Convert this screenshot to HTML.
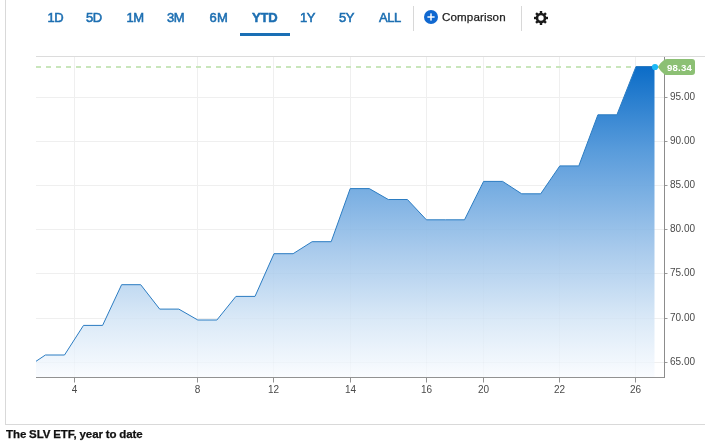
<!DOCTYPE html>
<html><head><meta charset="utf-8"><title>SLV</title>
<style>
html,body{margin:0;padding:0;background:#fff;}
body{width:705px;height:442px;position:relative;overflow:hidden;font-family:"Liberation Sans",sans-serif;}
.t{position:absolute;top:10px;height:16px;line-height:16px;font-size:13px;color:#1d6fb2;white-space:nowrap;letter-spacing:-0.4px;-webkit-text-stroke:0.55px #1d6fb2}
.ax{font-family:"Liberation Sans",sans-serif;font-size:10px;fill:#4a4a4a}
.lb{font-family:"Liberation Sans",sans-serif;font-size:9.6px;font-weight:bold;fill:#fff;letter-spacing:0.2px}
.sep{position:absolute;top:6px;width:1px;height:25px;background:#d8d8d8}
</style></head><body><div id="w" style="position:absolute;left:0;top:0;width:705px;height:442px;will-change:transform">
<div style="position:absolute;left:5px;top:0;width:1px;height:424px;background:#d9d9d9"></div>
<div style="position:absolute;left:5px;top:424px;width:700px;height:1px;background:#d9d9d9"></div>
<svg width="705" height="442" viewBox="0 0 705 442" style="position:absolute;left:0;top:0"><defs><linearGradient id="g" gradientUnits="userSpaceOnUse" x1="0" y1="57" x2="0" y2="377"><stop offset="0" stop-color="#0868c6"/><stop offset="0.04" stop-color="#0e6ec8"/><stop offset="0.29" stop-color="#589bdb"/><stop offset="0.60" stop-color="#a8caec"/><stop offset="0.82" stop-color="#dae9f7"/><stop offset="1" stop-color="#fafcff"/></linearGradient><linearGradient id="og" gradientUnits="userSpaceOnUse" x1="0" y1="57" x2="0" y2="377"><stop offset="0" stop-color="#000" stop-opacity="0"/><stop offset="0.3" stop-color="#000" stop-opacity="0"/><stop offset="1" stop-color="#000" stop-opacity="0.018"/></linearGradient></defs><rect x="36" y="56" width="669" height="1" fill="#dcdcdc"/><rect x="74.0" y="57" width="1" height="320" fill="#efefef"/><rect x="197.0" y="57" width="1" height="320" fill="#efefef"/><rect x="273.0" y="57" width="1" height="320" fill="#efefef"/><rect x="350.0" y="57" width="1" height="320" fill="#efefef"/><rect x="426.0" y="57" width="1" height="320" fill="#efefef"/><rect x="483.0" y="57" width="1" height="320" fill="#efefef"/><rect x="559.0" y="57" width="1" height="320" fill="#efefef"/><rect x="635.0" y="57" width="1" height="320" fill="#efefef"/><rect x="36" y="97.0" width="628" height="1" fill="#efefef"/><rect x="36" y="141.0" width="628" height="1" fill="#efefef"/><rect x="36" y="185.0" width="628" height="1" fill="#efefef"/><rect x="36" y="229.0" width="628" height="1" fill="#efefef"/><rect x="36" y="273.0" width="628" height="1" fill="#efefef"/><rect x="36" y="318.0" width="628" height="1" fill="#efefef"/><rect x="36" y="362.0" width="628" height="1" fill="#efefef"/><rect x="36" y="66" width="5" height="2" fill="#c9e6bc"/><rect x="46" y="66" width="5" height="2" fill="#c9e6bc"/><rect x="56" y="66" width="5" height="2" fill="#c9e6bc"/><rect x="66" y="66" width="5" height="2" fill="#c9e6bc"/><rect x="76" y="66" width="5" height="2" fill="#c9e6bc"/><rect x="86" y="66" width="5" height="2" fill="#c9e6bc"/><rect x="96" y="66" width="5" height="2" fill="#c9e6bc"/><rect x="106" y="66" width="5" height="2" fill="#c9e6bc"/><rect x="116" y="66" width="5" height="2" fill="#c9e6bc"/><rect x="126" y="66" width="5" height="2" fill="#c9e6bc"/><rect x="136" y="66" width="5" height="2" fill="#c9e6bc"/><rect x="146" y="66" width="5" height="2" fill="#c9e6bc"/><rect x="156" y="66" width="5" height="2" fill="#c9e6bc"/><rect x="166" y="66" width="5" height="2" fill="#c9e6bc"/><rect x="176" y="66" width="5" height="2" fill="#c9e6bc"/><rect x="186" y="66" width="5" height="2" fill="#c9e6bc"/><rect x="196" y="66" width="5" height="2" fill="#c9e6bc"/><rect x="206" y="66" width="5" height="2" fill="#c9e6bc"/><rect x="216" y="66" width="5" height="2" fill="#c9e6bc"/><rect x="226" y="66" width="5" height="2" fill="#c9e6bc"/><rect x="236" y="66" width="5" height="2" fill="#c9e6bc"/><rect x="246" y="66" width="5" height="2" fill="#c9e6bc"/><rect x="256" y="66" width="5" height="2" fill="#c9e6bc"/><rect x="266" y="66" width="5" height="2" fill="#c9e6bc"/><rect x="276" y="66" width="5" height="2" fill="#c9e6bc"/><rect x="286" y="66" width="5" height="2" fill="#c9e6bc"/><rect x="296" y="66" width="5" height="2" fill="#c9e6bc"/><rect x="306" y="66" width="5" height="2" fill="#c9e6bc"/><rect x="316" y="66" width="5" height="2" fill="#c9e6bc"/><rect x="326" y="66" width="5" height="2" fill="#c9e6bc"/><rect x="336" y="66" width="5" height="2" fill="#c9e6bc"/><rect x="346" y="66" width="5" height="2" fill="#c9e6bc"/><rect x="356" y="66" width="5" height="2" fill="#c9e6bc"/><rect x="366" y="66" width="5" height="2" fill="#c9e6bc"/><rect x="376" y="66" width="5" height="2" fill="#c9e6bc"/><rect x="386" y="66" width="5" height="2" fill="#c9e6bc"/><rect x="396" y="66" width="5" height="2" fill="#c9e6bc"/><rect x="406" y="66" width="5" height="2" fill="#c9e6bc"/><rect x="416" y="66" width="5" height="2" fill="#c9e6bc"/><rect x="426" y="66" width="5" height="2" fill="#c9e6bc"/><rect x="436" y="66" width="5" height="2" fill="#c9e6bc"/><rect x="446" y="66" width="5" height="2" fill="#c9e6bc"/><rect x="456" y="66" width="5" height="2" fill="#c9e6bc"/><rect x="466" y="66" width="5" height="2" fill="#c9e6bc"/><rect x="476" y="66" width="5" height="2" fill="#c9e6bc"/><rect x="486" y="66" width="5" height="2" fill="#c9e6bc"/><rect x="496" y="66" width="5" height="2" fill="#c9e6bc"/><rect x="506" y="66" width="5" height="2" fill="#c9e6bc"/><rect x="516" y="66" width="5" height="2" fill="#c9e6bc"/><rect x="526" y="66" width="5" height="2" fill="#c9e6bc"/><rect x="536" y="66" width="5" height="2" fill="#c9e6bc"/><rect x="546" y="66" width="5" height="2" fill="#c9e6bc"/><rect x="556" y="66" width="5" height="2" fill="#c9e6bc"/><rect x="566" y="66" width="5" height="2" fill="#c9e6bc"/><rect x="576" y="66" width="5" height="2" fill="#c9e6bc"/><rect x="586" y="66" width="5" height="2" fill="#c9e6bc"/><rect x="596" y="66" width="5" height="2" fill="#c9e6bc"/><rect x="606" y="66" width="5" height="2" fill="#c9e6bc"/><rect x="616" y="66" width="5" height="2" fill="#c9e6bc"/><rect x="626" y="66" width="5" height="2" fill="#c9e6bc"/><rect x="636" y="66" width="5" height="2" fill="#c9e6bc"/><rect x="646" y="66" width="5" height="2" fill="#c9e6bc"/><path d="M36,361.3 L45.4,355 L64.5,355 L83.5,325.4 L102.6,325.4 L121.6,284.7 L140.7,284.7 L159.7,309.1 L178.8,309.1 L197.8,320 L216.9,320 L235.9,296.4 L255,296.4 L274,253.7 L293.1,253.7 L312.1,241.7 L331.2,241.7 L350.2,188.6 L369.3,188.6 L388.3,199.5 L407.4,199.5 L426.4,219.8 L445.5,219.8 L464.5,219.8 L483.6,181.4 L502.6,181.4 L521.7,193.8 L540.7,193.8 L559.8,165.9 L578.8,165.9 L597.9,114.8 L616.9,114.8 L636,66.5 L654.5,66.5 L654.5,377 L36,377 Z" fill="url(#g)"/><clipPath id="cp"><path d="M36,361.3 L45.4,355 L64.5,355 L83.5,325.4 L102.6,325.4 L121.6,284.7 L140.7,284.7 L159.7,309.1 L178.8,309.1 L197.8,320 L216.9,320 L235.9,296.4 L255,296.4 L274,253.7 L293.1,253.7 L312.1,241.7 L331.2,241.7 L350.2,188.6 L369.3,188.6 L388.3,199.5 L407.4,199.5 L426.4,219.8 L445.5,219.8 L464.5,219.8 L483.6,181.4 L502.6,181.4 L521.7,193.8 L540.7,193.8 L559.8,165.9 L578.8,165.9 L597.9,114.8 L616.9,114.8 L636,66.5 L654.5,66.5 L654.5,377 L36,377 Z"/></clipPath><g clip-path="url(#cp)"><rect x="74.0" y="57" width="1" height="320" fill="url(#og)"/><rect x="197.0" y="57" width="1" height="320" fill="url(#og)"/><rect x="273.0" y="57" width="1" height="320" fill="url(#og)"/><rect x="350.0" y="57" width="1" height="320" fill="url(#og)"/><rect x="426.0" y="57" width="1" height="320" fill="url(#og)"/><rect x="483.0" y="57" width="1" height="320" fill="url(#og)"/><rect x="559.0" y="57" width="1" height="320" fill="url(#og)"/><rect x="635.0" y="57" width="1" height="320" fill="url(#og)"/><rect x="36" y="97.0" width="619" height="1" fill="#000" fill-opacity="0.000"/><rect x="36" y="141.0" width="619" height="1" fill="#000" fill-opacity="0.000"/><rect x="36" y="185.0" width="619" height="1" fill="#000" fill-opacity="0.003"/><rect x="36" y="229.0" width="619" height="1" fill="#000" fill-opacity="0.006"/><rect x="36" y="273.0" width="619" height="1" fill="#000" fill-opacity="0.010"/><rect x="36" y="318.0" width="619" height="1" fill="#000" fill-opacity="0.013"/><rect x="36" y="362.0" width="619" height="1" fill="#000" fill-opacity="0.017"/></g><path d="M36,361.3 L45.4,355 L64.5,355 L83.5,325.4 L102.6,325.4 L121.6,284.7 L140.7,284.7 L159.7,309.1 L178.8,309.1 L197.8,320 L216.9,320 L235.9,296.4 L255,296.4 L274,253.7 L293.1,253.7 L312.1,241.7 L331.2,241.7 L350.2,188.6 L369.3,188.6 L388.3,199.5 L407.4,199.5 L426.4,219.8 L445.5,219.8 L464.5,219.8 L483.6,181.4 L502.6,181.4 L521.7,193.8 L540.7,193.8 L559.8,165.9 L578.8,165.9 L597.9,114.8 L616.9,114.8 L636,66.5 L654.5,66.5" fill="none" stroke="#2b7cc2" stroke-width="1" stroke-linejoin="round"/><rect x="36" y="377" width="629" height="1" fill="#929292"/><rect x="664" y="57" width="1" height="321" fill="#8c8c8c"/><rect x="74.0" y="378" width="1" height="4.5" fill="#929292"/><text x="74.5" y="393" text-anchor="middle" class="ax">4</text><rect x="197.0" y="378" width="1" height="4.5" fill="#929292"/><text x="197.5" y="393" text-anchor="middle" class="ax">8</text><rect x="273.0" y="378" width="1" height="4.5" fill="#929292"/><text x="273.5" y="393" text-anchor="middle" class="ax">12</text><rect x="350.0" y="378" width="1" height="4.5" fill="#929292"/><text x="350.5" y="393" text-anchor="middle" class="ax">14</text><rect x="426.0" y="378" width="1" height="4.5" fill="#929292"/><text x="426.5" y="393" text-anchor="middle" class="ax">16</text><rect x="483.0" y="378" width="1" height="4.5" fill="#929292"/><text x="483.5" y="393" text-anchor="middle" class="ax">20</text><rect x="559.0" y="378" width="1" height="4.5" fill="#929292"/><text x="559.5" y="393" text-anchor="middle" class="ax">22</text><rect x="635.0" y="378" width="1" height="4.5" fill="#929292"/><text x="635.5" y="393" text-anchor="middle" class="ax">26</text><rect x="665" y="97.0" width="2.5" height="1" fill="#999"/><text x="670" y="100.4" class="ax">95.00</text><rect x="665" y="141.0" width="2.5" height="1" fill="#999"/><text x="670" y="144.4" class="ax">90.00</text><rect x="665" y="185.0" width="2.5" height="1" fill="#999"/><text x="670" y="188.4" class="ax">85.00</text><rect x="665" y="229.0" width="2.5" height="1" fill="#999"/><text x="670" y="232.4" class="ax">80.00</text><rect x="665" y="273.0" width="2.5" height="1" fill="#999"/><text x="670" y="276.4" class="ax">75.00</text><rect x="665" y="318.0" width="2.5" height="1" fill="#999"/><text x="670" y="321.4" class="ax">70.00</text><rect x="665" y="362.0" width="2.5" height="1" fill="#999"/><text x="670" y="365.4" class="ax">65.00</text><path d="M657.8,67 Q660.5,62.6 664.6,59.6 Q665.4,59 667,59 H692 Q695,59 695,62 V72 Q695,75 692,75 H667 Q665.4,75 664.6,74.4 Q660.5,71.4 657.8,67 Z" fill="#8cc074"/><text x="667" y="70.8" class="lb">98.34</text><circle cx="655" cy="67" r="3.1" fill="#1cb8f6"/><circle cx="431" cy="17" r="7" fill="#1068d0"/><rect x="427.4" y="16.2" width="7.2" height="1.6" fill="#fff" fill-opacity="0.92"/><rect x="430.2" y="13.4" width="1.6" height="7.2" fill="#fff" fill-opacity="0.92"/><g transform="translate(541,18)" fill="#1a1a1a"><rect x="-1.2" y="-7" width="2.4" height="3.5" transform="rotate(0)"/><rect x="-1.2" y="-7" width="2.4" height="3.5" transform="rotate(45)"/><rect x="-1.2" y="-7" width="2.4" height="3.5" transform="rotate(90)"/><rect x="-1.2" y="-7" width="2.4" height="3.5" transform="rotate(135)"/><rect x="-1.2" y="-7" width="2.4" height="3.5" transform="rotate(180)"/><rect x="-1.2" y="-7" width="2.4" height="3.5" transform="rotate(225)"/><rect x="-1.2" y="-7" width="2.4" height="3.5" transform="rotate(270)"/><rect x="-1.2" y="-7" width="2.4" height="3.5" transform="rotate(315)"/><path fill-rule="evenodd" d="M0,-5.3 A5.3,5.3 0 1,0 0,5.3 A5.3,5.3 0 1,0 0,-5.3 Z M0,-2.7 A2.7,2.7 0 1,1 0,2.7 A2.7,2.7 0 1,1 0,-2.7 Z"/></g></svg>
<div class="t" style="left:47.5px">1D</div>
<div class="t" style="left:86px">5D</div>
<div class="t" style="left:126.5px">1M</div>
<div class="t" style="left:167px">3M</div>
<div class="t" style="left:209.5px;letter-spacing:0.3px">6M</div>
<div class="t" style="left:252px;font-weight:bold;letter-spacing:-0.2px;-webkit-text-stroke:0.5px #1d6fb2">YTD</div>
<div class="t" style="left:300px">1Y</div>
<div class="t" style="left:339px">5Y</div>
<div class="t" style="left:379px">ALL</div>
<div style="position:absolute;left:240px;top:33px;width:50px;height:3px;background:#1a6fb5"></div>
<div class="sep" style="left:413px"></div>
<div class="sep" style="left:521px"></div>
<div class="t" style="left:442px;top:9px;color:#222;font-size:11.6px;letter-spacing:0.12px;-webkit-text-stroke:0.25px #222">Comparison</div>
<div style="position:absolute;left:6px;top:427px;font-size:11.5px;line-height:14px;font-weight:bold;color:#111;white-space:nowrap;letter-spacing:-0.02px;word-spacing:-0.5px;-webkit-text-stroke:0.25px #111">The SLV ETF, year to date</div>
</div></body></html>
